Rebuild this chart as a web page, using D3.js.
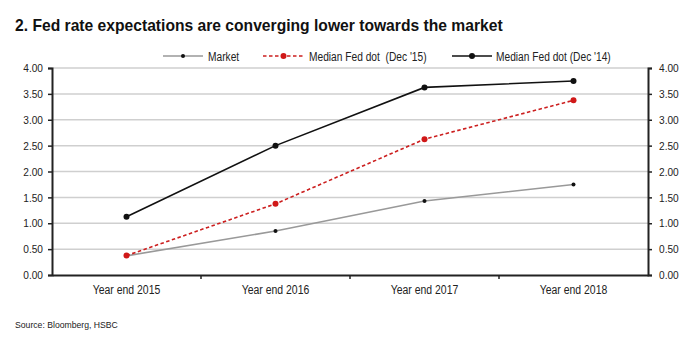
<!DOCTYPE html>
<html>
<head>
<meta charset="utf-8">
<script src="https://cdn.jsdelivr.net/npm/d3@7"></script>
<style>
  html, body { margin: 0; padding: 0; background: #fff; }
  svg { display: block; font-family: "Liberation Sans", Arial, sans-serif; }
  text { white-space: pre; }
</style>
</head>
<body>
<svg id="chart" width="700" height="346"></svg>
<script>
// Fed funds rate path: market pricing vs FOMC median dots
const categories = ["Year end 2015", "Year end 2016", "Year end 2017", "Year end 2018"];
const market = [0.37, 0.85, 1.43, 1.75];
const dotDec15 = [0.375, 1.375, 2.625, 3.375];
const dotDec14 = [1.125, 2.5, 3.625, 3.75];
const yTicks = [0, 0.5, 1, 1.5, 2, 2.5, 3, 3.5, 4];

const series = [
  { name: "Market", values: market, color: "#999999", dot: "#111111", r: 2, dash: null },
  { name: "Median Fed dot  (Dec '15)", values: dotDec15, color: "#cc1f1f", dot: "#d01818", r: 3, dash: "3.5,2.5" },
  { name: "Median Fed dot (Dec '14)", values: dotDec14, color: "#111111", dot: "#111111", r: 3, dash: null }
];

const svg = d3.select("#chart");
const plotL = 52, plotR = 648, plotT = 68, plotB = 275;

const x = d3.scaleBand().domain(categories).range([plotL, plotR]);
const y = d3.scaleLinear().domain([0, 4]).range([plotB, plotT]);

// Narrow the rendered glyphs horizontally to mimic a condensed face
function condense(sel, k) {
  sel.each(function () {
    const w = this.getComputedTextLength();
    d3.select(this).attr("textLength", w * k).attr("lengthAdjust", "spacingAndGlyphs");
  });
}

// Title
svg.append("text")
  .attr("x", 15).attr("y", 31)
  .attr("font-size", 17).attr("font-weight", "bold").attr("fill", "#111")
  .text("2. Fed rate expectations are converging lower towards the market")
  .call(condense, 0.92);

// Gridlines
svg.append("g").selectAll("line").data(yTicks.filter(d => d > 0)).join("line")
  .attr("x1", plotL).attr("x2", plotR)
  .attr("y1", d => y(d)).attr("y2", d => y(d))
  .attr("stroke", "#cfcfcf").attr("stroke-width", 1.5);

const fmt = d3.format(".2f");

// Left axis
const yl = svg.append("g").attr("transform", `translate(${plotL},0)`)
  .call(d3.axisLeft(y).tickValues(yTicks).tickFormat(fmt).tickSize(4).tickPadding(5));
// Right axis
const yr = svg.append("g").attr("transform", `translate(${plotR},0)`)
  .call(d3.axisRight(y).tickValues(yTicks).tickFormat(fmt).tickSize(4).tickPadding(7));
[yl, yr].forEach(g => {
  g.select(".domain").attr("stroke", "#222").attr("stroke-width", 2);
  g.selectAll(".tick line").attr("stroke", "#222").attr("stroke-width", 1.5);
  g.selectAll(".tick text").attr("font-size", 11.5).attr("fill", "#222")
    .attr("font-family", "'Liberation Sans', Arial, sans-serif")
    .call(condense, 0.88);
});

// Bottom axis with ticks at band boundaries
const xb = svg.append("g").attr("transform", `translate(0,${plotB})`)
  .call(d3.axisBottom(x).tickSize(0).tickPadding(10));
xb.select(".domain").attr("stroke", "#222").attr("stroke-width", 2);
xb.selectAll(".tick text").attr("font-size", 12).attr("fill", "#222")
  .attr("font-family", "'Liberation Sans', Arial, sans-serif")
  .call(condense, 0.87);
svg.append("g").selectAll("line").data(categories.slice(1)).join("line")
  .attr("x1", d => x(d)).attr("x2", d => x(d))
  .attr("y1", plotB).attr("y2", plotB + 4)
  .attr("stroke", "#222").attr("stroke-width", 1.5);

// Lines and markers
const cx = i => x(categories[i]) + x.bandwidth() / 2;
const line = d3.line().x((d, i) => cx(i)).y(d => y(d));
series.forEach(s => {
  svg.append("path").datum(s.values)
    .attr("d", line).attr("fill", "none")
    .attr("stroke", s.color).attr("stroke-width", 1.6)
    .attr("stroke-dasharray", s.dash);
  svg.append("g").selectAll("circle").data(s.values).join("circle")
    .attr("cx", (d, i) => cx(i)).attr("cy", d => y(d))
    .attr("r", s.r).attr("fill", s.dot);
});

// Legend
const legendItems = [
  { s: series[0], x0: 163, x1: 203, tx: 208 },
  { s: series[1], x0: 263, x1: 304, tx: 309 },
  { s: series[2], x0: 452, x1: 492, tx: 496 }
];
const lg = svg.append("g");
legendItems.forEach(it => {
  const ly = 56;
  lg.append("line").attr("x1", it.x0).attr("x2", it.x1).attr("y1", ly).attr("y2", ly)
    .attr("stroke", it.s.color).attr("stroke-width", 1.6).attr("stroke-dasharray", it.s.dash);
  lg.append("circle").attr("cx", (it.x0 + it.x1) / 2).attr("cy", ly).attr("r", it.s.r)
    .attr("fill", it.s.dot);
  lg.append("text").attr("x", it.tx).attr("y", ly + 4.5)
    .attr("font-size", 12).attr("fill", "#222").text(it.s.name)
    .call(condense, 0.85);
});

// Source note
svg.append("text").attr("x", 15).attr("y", 328)
  .attr("font-size", 9.5).attr("fill", "#222")
  .text("Source: Bloomberg, HSBC")
  .call(condense, 0.91);
</script>
</body>
</html>
